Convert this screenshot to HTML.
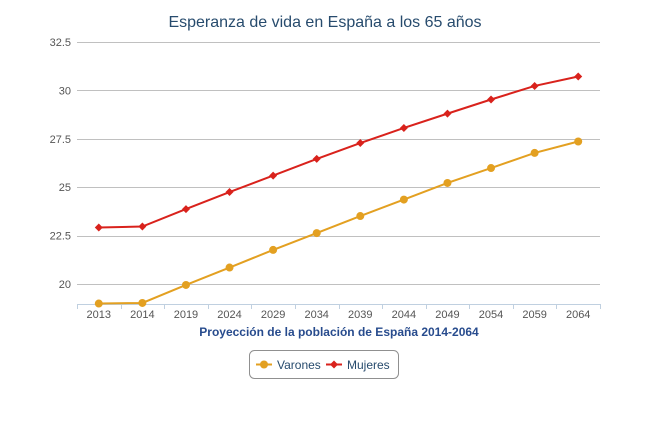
<!DOCTYPE html>
<html><head><meta charset="utf-8"><style>
body{margin:0;background:#fff;width:650px;height:441px;overflow:hidden;font-family:"Liberation Sans",sans-serif}
</style></head><body>
<svg id="chart" width="650" height="441" xmlns="http://www.w3.org/2000/svg">
<text x="325" y="27" text-anchor="middle" font-size="16" fill="#274b6d">Esperanza de vida en España a los 65 años</text>
<g id="grid"></g><g id="axes"></g><g id="series"></g>
<text x="339" y="336" text-anchor="middle" font-size="12" font-weight="bold" fill="#274b8d">Proyección de la población de España 2014-2064</text>
<g>
<rect x="249.5" y="350.5" width="149" height="28" rx="5" fill="#fff" stroke="#909090"/>
<g><line x1="256" y1="364.5" x2="272" y2="364.5" stroke="#e3a021" stroke-width="2"/><circle cx="264" cy="364.5" r="4" fill="#e3a021"/><text x="277" y="369" font-size="12" fill="#274b6d">Varones</text></g>
<g><line x1="326" y1="364.5" x2="342" y2="364.5" stroke="#d9221c" stroke-width="2"/><path d="M334 360.5L338 364.5L334 368.5L330 364.5Z" fill="#d9221c"/><text x="347" y="369" font-size="12" fill="#274b6d">Mujeres</text></g>
</g>
</svg>
<script>
const categories=["2013","2014","2019","2024","2029","2034","2039","2044","2049","2054","2059","2064"];
const varones=[18.99,19.02,19.95,20.85,21.76,22.63,23.51,24.36,25.22,25.99,26.77,27.36];
const mujeres=[22.92,22.97,23.87,24.75,25.6,26.46,27.28,28.06,28.8,29.53,30.23,30.72];
const yTicks=[20,22.5,25,27.5,30,32.5];
const yTickLabels=["20","22.5","25","27.5","30","32.5"];
const NS="http://www.w3.org/2000/svg";
const L=77,R=600,band=(R-L)/categories.length;
const x=i=>L+band*(i+0.5);
const y=v=>284-(v-20)*19.36;
function mk(t,a,p){const e=document.createElementNS(NS,t);for(const k in a)e.setAttribute(k,a[k]);p.appendChild(e);return e;}
const grid=document.getElementById('grid'),axes=document.getElementById('axes'),ser=document.getElementById('series');
yTicks.forEach((v,i)=>{
 const g=mk('line',{x1:L,x2:R,y1:Math.round(y(v))+0.5,y2:Math.round(y(v))+0.5,stroke:'#c0c0c0'},grid);
 
 
 const t=mk('text',{x:71,y:y(v)+4,'text-anchor':'end','font-size':11,fill:'#555'},axes);
 t.textContent=yTickLabels[i];
 
 
});
const ax=mk('line',{x1:L,x2:R,y1:304.5,y2:304.5,stroke:'#c0d0e0'},axes);


categories.forEach((c,i)=>{
 const tk=mk('line',{x1:Math.round(L+band*i)+0.5,x2:Math.round(L+band*i)+0.5,y1:304,y2:309,stroke:'#c0d0e0'},axes);
 
 
 const t=mk('text',{x:x(i),y:318,'text-anchor':'middle','font-size':11,fill:'#555'},axes);
 t.textContent=c;
 
 
});
mk('line',{x1:R+0.5,x2:R+0.5,y1:304,y2:309,stroke:'#c0d0e0'},axes);
function series(vals,color,name,shape){
 const p=mk('polyline',{points:vals.map((v,i)=>x(i)+','+y(v)).join(' '),fill:'none',stroke:color,'stroke-width':2},ser);
 
 
 vals.forEach((v,i)=>{
  let m;
  if(shape==='c')m=mk('circle',{cx:x(i),cy:y(v),r:4,fill:color},ser);
  else {const cx=x(i),cy=y(v);m=mk('path',{d:`M${cx} ${cy-4}L${cx+4} ${cy}L${cx} ${cy+4}L${cx-4} ${cy}Z`,fill:color},ser);}
  
  
 });
}
series(varones,'#e3a021','varones','c');
series(mujeres,'#d9221c','mujeres','d');
</script>
</body></html>
